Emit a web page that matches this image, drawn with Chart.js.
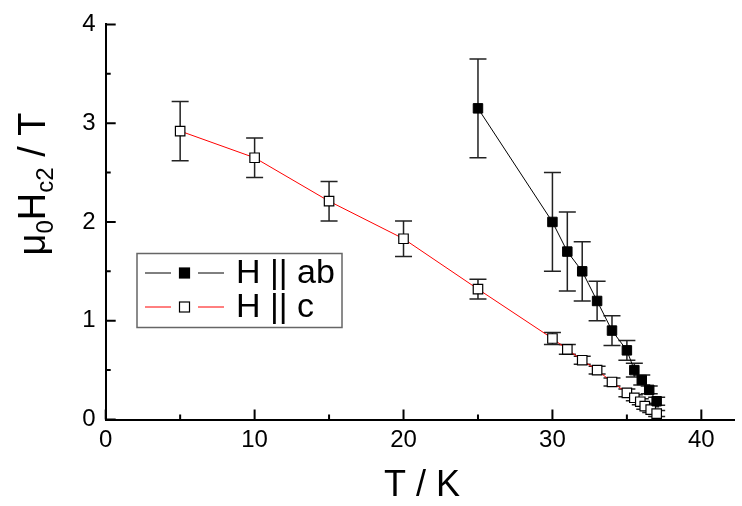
<!DOCTYPE html>
<html>
<head>
<meta charset="utf-8">
<script src="https://cdn.jsdelivr.net/npm/chart.js@4.4.0/dist/chart.umd.min.js"></script>
<style>
  body { margin: 0; background: #fff; }
  #wrap { width: 742px; height: 506px; position: relative; }
</style>
</head>
<body>
<div id="wrap"><canvas id="hc2-chart"></canvas></div>
<script>
// H || ab (filled squares)
const abT = [25, 30, 31, 32, 33, 34, 35, 35.5, 36, 36.5, 37];
const abHc2 = [3.15, 2.0, 1.7, 1.5, 1.2, 0.9, 0.7, 0.5, 0.4, 0.3, 0.185];
const abErr = [0.5, 0.5, 0.4, 0.3, 0.2, 0.15, 0.1, 0.07, 0.05, 0.04, 0.04];

// H || c (open squares)
const cT = [5, 10, 15, 20, 25, 30, 31, 32, 33, 34, 35, 35.5, 35.9, 36.2, 36.6, 37];
const cHc2 = [2.92, 2.65, 2.21, 1.83, 1.32, 0.82, 0.71, 0.6, 0.5, 0.38, 0.27, 0.22, 0.18, 0.135, 0.1, 0.06];
const cErr = [0.3, 0.2, 0.2, 0.18, 0.1, 0.06, 0.05, 0.04, 0.04, 0.04, 0.04, 0.03, 0.03, 0.03, 0.03, 0.03];

const xTicks = [0, 10, 20, 30, 40];
const xMinorTicks = [5, 15, 25, 35];
const yTicks = [0, 1, 2, 3, 4];
const yMinorTicks = [0.5, 1.5, 2.5, 3.5];

const legendLabels = ['H || ab', 'H || c'];

const FONT = '"Liberation Sans", Arial, sans-serif';

function toPoints(xs, ys) {
  return xs.map((x, i) => ({ x: x, y: ys[i] }));
}

// error bars drawn under the markers
const errorBars = {
  id: 'errorBars',
  beforeDatasetsDraw(chart) {
    const ctx = chart.ctx;
    const xs = chart.scales.x, ys = chart.scales.y;
    const errs = [abErr, cErr];
    const cap = 8.5;
    ctx.save();
    ctx.strokeStyle = '#222';
    ctx.lineWidth = 1.5;
    chart.data.datasets.forEach((ds, d) => {
      ds.data.forEach((p, i) => {
        const px = xs.getPixelForValue(p.x);
        const top = ys.getPixelForValue(p.y + errs[d][i]);
        const bot = ys.getPixelForValue(p.y - errs[d][i]);
        ctx.beginPath();
        ctx.moveTo(px, top); ctx.lineTo(px, bot);
        ctx.moveTo(px - cap, top); ctx.lineTo(px + cap, top);
        ctx.moveTo(px - cap, bot); ctx.lineTo(px + cap, bot);
        ctx.stroke();
      });
    });
    ctx.restore();
  }
};

// inward ticks, axis titles and the boxed legend
const decorations = {
  id: 'decorations',
  afterDraw(chart) {
    const ctx = chart.ctx;
    const xs = chart.scales.x, ys = chart.scales.y;
    const area = chart.chartArea;
    ctx.save();
    ctx.strokeStyle = '#000';
    ctx.lineWidth = 2;
    ctx.beginPath();
    xTicks.forEach(v => {
      const px = xs.getPixelForValue(v);
      ctx.moveTo(px, area.bottom); ctx.lineTo(px, area.bottom - 10);
    });
    xMinorTicks.forEach(v => {
      const px = xs.getPixelForValue(v);
      ctx.moveTo(px, area.bottom); ctx.lineTo(px, area.bottom - 5);
    });
    yTicks.forEach(v => {
      const py = ys.getPixelForValue(v);
      ctx.moveTo(area.left, py); ctx.lineTo(area.left + 10, py);
    });
    yMinorTicks.forEach(v => {
      const py = ys.getPixelForValue(v);
      ctx.moveTo(area.left, py); ctx.lineTo(area.left + 5, py);
    });
    ctx.stroke();

    // x title
    ctx.fillStyle = '#000';
    ctx.font = '36px ' + FONT;
    ctx.textAlign = 'center';
    ctx.textBaseline = 'alphabetic';
    ctx.fillText('T / K', (area.left + area.right) / 2 + 2, 496);

    // y title with subscripts
    const parts = [['μ', false], ['0', true], ['H', false], ['c2', true], [' / T', false]];
    const big = '38px ' + FONT, small = '24px ' + FONT;
    let total = 0;
    parts.forEach(([t, sub]) => { ctx.font = sub ? small : big; total += ctx.measureText(t).width; });
    ctx.translate(45, 184);
    ctx.rotate(-Math.PI / 2);
    ctx.textAlign = 'left';
    let cx = -total / 2;
    parts.forEach(([t, sub]) => {
      ctx.font = sub ? small : big;
      ctx.fillText(t, cx, sub ? 8 : 0);
      cx += ctx.measureText(t).width;
    });
    ctx.restore();

    // legend
    ctx.save();
    const bx = 137, by = 253.5, bw = 205, bh = 74;
    ctx.strokeStyle = '#666';
    ctx.lineWidth = 1.5;
    ctx.strokeRect(bx, by, bw, bh);
    const rows = [273, 307];
    chart.data.datasets.forEach((ds, i) => {
      const ry = rows[i];
      ctx.strokeStyle = ds.borderColor;
      ctx.lineWidth = 1;
      ctx.beginPath();
      ctx.moveTo(145, ry); ctx.lineTo(171, ry);
      ctx.moveTo(198, ry); ctx.lineTo(224, ry);
      ctx.stroke();
      ctx.fillStyle = ds.pointBackgroundColor;
      ctx.fillRect(179.5, ry - 5, 10, 10);
      ctx.strokeStyle = '#000';
      ctx.lineWidth = 1.2;
      ctx.strokeRect(179.5, ry - 5, 10, 10);
      ctx.fillStyle = '#000';
      ctx.font = '34px ' + FONT;
      ctx.textAlign = 'left';
      ctx.textBaseline = 'middle';
      ctx.fillText(legendLabels[i], 236, ry + 1);
    });
    ctx.restore();
  }
};

const ctx = document.getElementById('hc2-chart').getContext('2d');
const hc2Chart = new Chart(ctx, {
  type: 'scatter',
  data: {
    datasets: [
      {
        label: legendLabels[0],
        data: toPoints(abT, abHc2),
        showLine: true,
        borderColor: '#000',
        borderWidth: 1,
        pointStyle: 'rect',
        pointRadius: 6.7,
        pointBackgroundColor: '#000',
        pointBorderColor: '#000',
        pointBorderWidth: 1
      },
      {
        label: legendLabels[1],
        data: toPoints(cT, cHc2),
        showLine: true,
        borderColor: '#ff0000',
        borderWidth: 1,
        pointStyle: 'rect',
        pointRadius: 6.7,
        pointBackgroundColor: '#fff',
        pointBorderColor: '#000',
        pointBorderWidth: 1.2
      }
    ]
  },
  options: {
    responsive: true,
    maintainAspectRatio: false,
    animation: false,
    layout: { padding: { top: 20, right: 0, left: 0, bottom: 0 } },
    plugins: {
      legend: { display: false },
      tooltip: { enabled: false }
    },
    scales: {
      x: {
        type: 'linear',
        min: 0,
        max: 42.2,
        afterBuildTicks: axis => { axis.ticks = xTicks.map(v => ({ value: v })); },
        afterFit: axis => { axis.height = 86.5; },
        grid: { display: false, drawTicks: false },
        border: { display: true, color: '#000', width: 2 },
        ticks: { color: '#000', font: { family: FONT, size: 24 }, padding: 6, maxRotation: 0 }
      },
      y: {
        type: 'linear',
        min: 0,
        max: 4,
        afterBuildTicks: axis => { axis.ticks = yTicks.map(v => ({ value: v })); },
        afterFit: axis => { axis.width = 105.7; },
        grid: { display: false, drawTicks: false },
        border: { display: true, color: '#000', width: 2 },
        ticks: { color: '#000', font: { family: FONT, size: 24 }, padding: 10 }
      }
    }
  },
  plugins: [errorBars, decorations]
});
</script>
</body>
</html>
